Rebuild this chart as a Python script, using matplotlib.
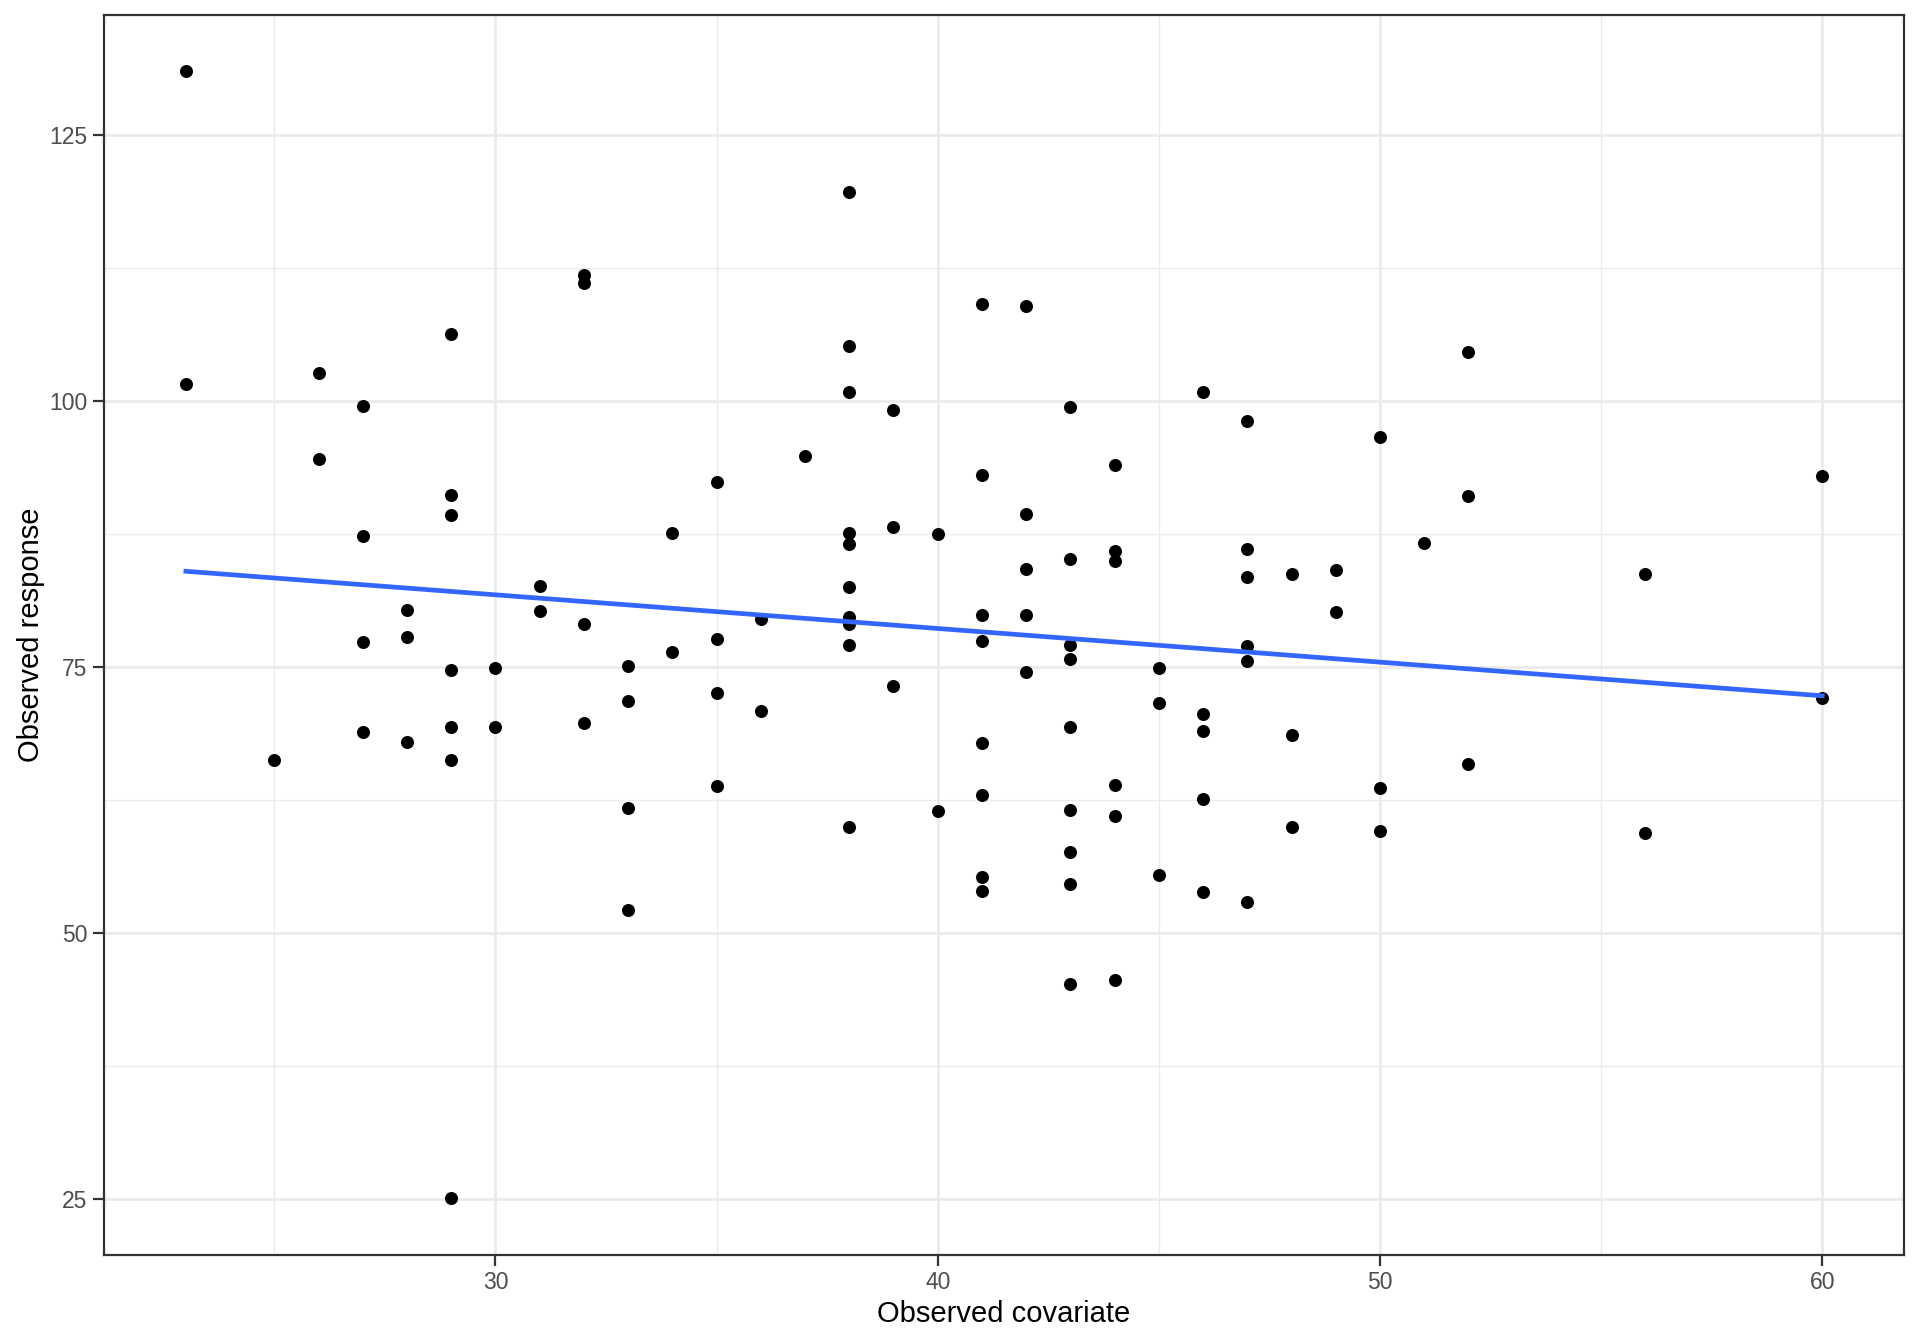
import numpy as np
import matplotlib
matplotlib.use('Agg')
import matplotlib.pyplot as plt
from matplotlib.ticker import MultipleLocator

# observed covariate / response
covariate = [23, 23, 25, 26, 26, 27, 27, 27, 27, 28, 28, 28,
             29, 29, 29, 29, 29, 29, 29, 30, 30, 31, 31,
             32, 32, 32, 32, 33, 33, 33, 33, 34, 34,
             35, 35, 35, 35, 36, 36, 37,
             38, 38, 38, 38, 38, 38, 38, 38, 38, 38,
             39, 39, 39, 40, 40,
             41, 41, 41, 41, 41, 41, 41, 41,
             42, 42, 42, 42, 42,
             43, 43, 43, 43, 43, 43, 43, 43, 43,
             44, 44, 44, 44, 44, 44,
             45, 45, 45, 46, 46, 46, 46, 46,
             47, 47, 47, 47, 47, 47,
             48, 48, 48, 49, 49, 50, 50, 50, 51,
             52, 52, 52, 56, 56, 60, 60]
response = [131.0, 101.6, 66.3, 102.6, 94.6, 99.5, 87.3, 77.4, 68.9, 80.4, 77.8, 68.0,
            106.3, 91.2, 89.3, 74.7, 69.4, 66.3, 25.1, 74.9, 69.4, 82.6, 80.3,
            111.8, 111.1, 79.1, 69.8, 75.1, 71.8, 61.8, 52.2, 87.6, 76.4,
            92.4, 77.6, 72.6, 63.8, 79.5, 70.9, 94.8,
            119.6, 105.2, 100.9, 87.6, 86.6, 82.5, 79.7, 79.1, 77.1, 60.0,
            99.2, 88.2, 73.2, 87.5, 61.5,
            109.1, 93.1, 79.9, 77.5, 67.9, 63.0, 55.3, 54.0,
            108.9, 89.4, 84.2, 79.9, 74.5,
            99.4, 85.2, 77.1, 75.8, 69.4, 61.6, 57.6, 54.6, 45.2,
            94.0, 85.9, 85.0, 63.9, 61.0, 45.6,
            74.9, 71.6, 55.5, 100.9, 70.6, 69.0, 62.6, 53.9,
            98.1, 86.1, 83.5, 77.0, 75.6, 52.9,
            83.8, 68.6, 60.0, 84.1, 80.2, 96.6, 63.6, 59.6, 86.7,
            104.6, 91.1, 65.9, 83.8, 59.4, 93.0, 72.1]

x = np.array(covariate, dtype=float)
y = np.array(response)
slope, icpt = np.polyfit(x, y, 1)
xl = np.array([x.min(), x.max()])

plt.rcParams['font.family'] = ['Liberation Sans', 'DejaVu Sans']
fig = plt.figure(figsize=(19.2, 13.44), dpi=100)
ax = fig.add_axes([0.0542, 0.0665, 0.9375, 0.9225])

ax.scatter(x, y, s=88, color='black', linewidths=0, zorder=3)
ax.plot(xl, icpt + slope * xl, color='#3366FF', lw=3.4, zorder=4)

xr = x.max() - x.min(); yr = y.max() - y.min()
ax.set_xlim(x.min() - 0.05 * xr, x.max() + 0.05 * xr)
ax.set_ylim(y.min() - 0.05 * yr, y.max() + 0.05 * yr)

ax.xaxis.set_major_locator(MultipleLocator(10))
ax.xaxis.set_minor_locator(MultipleLocator(5))
ax.yaxis.set_major_locator(MultipleLocator(25))
ax.yaxis.set_minor_locator(MultipleLocator(12.5))
ax.grid(which='major', color='#EBEBEB', lw=2.0, zorder=0)
ax.grid(which='minor', color='#EBEBEB', lw=1.0, zorder=0)
ax.set_axisbelow(True)
ax.tick_params(which='major', length=8, width=1.6, color='#333333',
               labelsize=16.5, labelcolor='#4D4D4D', pad=4)
ax.tick_params(which='minor', length=0)
for s in ax.spines.values():
    s.set_color('#333333'); s.set_linewidth(1.6)

ax.set_xlabel("Observed covariate", fontsize=21, labelpad=4)
ax.set_ylabel("Observed response", fontsize=21, labelpad=3)

fig.savefig("out.png", dpi=100)
